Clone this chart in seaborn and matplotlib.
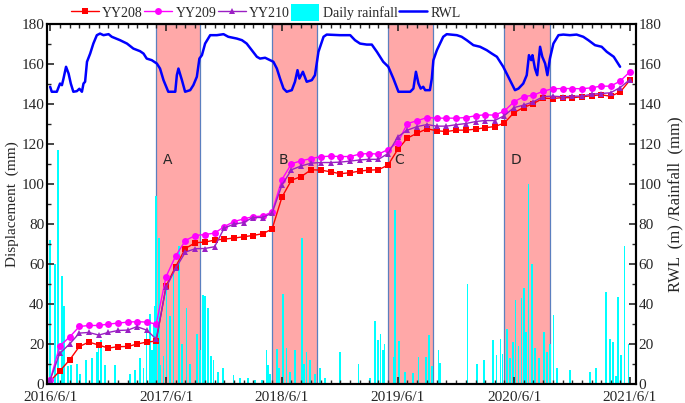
import matplotlib
matplotlib.use('Agg')
import matplotlib.pyplot as plt
import matplotlib.dates as mdates
from matplotlib.lines import Line2D
from matplotlib.patches import Patch
from matplotlib.ticker import MultipleLocator, FuncFormatter
import seaborn as sns
import pandas as pd
import numpy as np

# monthly displacement readings, first reading 2016/6/1
start = '2016-06-01'
yy208 = [1.5, 6.5, 12, 18.8, 21, 19.5, 18, 18.7, 18.8, 20, 21, 21.5,
         49, 58.7, 67.8, 70.7, 71, 72, 72.5, 73, 73.7, 74.3, 75.2, 77.5,
         93.5, 102, 103.8, 107.2, 107, 106.2, 105.2, 105.7, 106.5, 107, 107.2, 109.5,
         117.4, 123, 125.5, 127.7, 126.7, 126.3, 127, 127, 127.5, 128.2, 128.8, 130.5,
         135.8, 138.3, 140.3, 143, 142.8, 143.3, 143.2, 143.7, 144.2, 144.7, 144, 146, 152]
yy209 = [2, 19, 23.5, 28.8, 29.3, 29.3, 30, 30.5, 31, 31.2, 31, 30,
         53.7, 64, 71.8, 74.3, 74.8, 75.5, 78.7, 81.3, 82.6, 83.7, 84, 86.1,
         102.3, 110.2, 111.7, 112.8, 113.7, 114, 113.8, 113.8, 115, 115.3, 115, 117.3,
         120.8, 130.3, 131.7, 133.3, 133, 133, 133, 133.3, 134.2, 134.7, 134.5, 136.5,
         141.2, 143.7, 144.5, 146.5, 147.7, 147.8, 147.8, 147.7, 148.2, 149, 149, 151.5, 156.2]
yy210 = [2, 15.3, 20, 25.5, 25.8, 24.5, 25.8, 26.8, 27, 28.7, 27, 22.5,
         48.3, 57.8, 66, 67.7, 67.8, 68.7, 78, 80, 80.8, 83.3, 83.3, 85.5,
         99.5, 107.2, 109.1, 110.5, 110.8, 110.8, 111, 111.5, 112.1, 112.4, 112.4, 115.3,
         123.7, 127, 128.8, 129.8, 129, 129, 129.7, 130.3, 131.3, 131.8, 131.8, 134.2,
         138.3, 139.5, 141.2, 143.8, 144, 143.7, 144, 144, 145, 145.3, 145.7, 148.3, 152.3]

# reservoir water level, days after 2016/6/1
rwl_day = [0, 5, 21, 31, 37, 42, 50, 58, 65, 73, 84, 92, 100, 105, 110, 116, 126, 136, 147, 157,
           168, 184, 194, 220, 242, 262, 283, 294, 304, 320, 336, 346, 357, 372, 394, 399, 404,
           415, 425, 441, 451, 462, 470, 478, 488, 504, 525, 546, 561, 588, 604, 619, 635, 651,
           661, 677, 693, 703, 714, 724, 735, 745, 761, 771, 779, 785, 796, 808, 824, 834, 845,
           861, 871, 913, 945, 960, 976, 997, 1013, 1029, 1049, 1065, 1081, 1097, 1134, 1144,
           1152, 1160, 1167, 1175, 1181, 1196, 1202, 1207, 1218, 1238, 1249, 1281, 1296, 1312,
           1333, 1354, 1375, 1391, 1407, 1427, 1448, 1464, 1475, 1490, 1501, 1508, 1515, 1519,
           1527, 1534, 1543, 1550, 1559, 1566, 1574, 1585, 1601, 1616, 1637, 1658, 1679, 1695,
           1716, 1737, 1753, 1775, 1795]
rwl = [148.7, 146.2, 146.2, 150.3, 149.5, 152.8, 158.7, 155.3, 150.3, 146.2, 146.5, 147.7, 146.2,
       150.3, 151.2, 161.2, 165.3, 170.3, 174.5, 175.3, 174.5, 175, 173.7, 172, 170.3, 167.8,
       166.5, 165.3, 162.8, 162, 160.3, 157.8, 152, 146.2, 146.2, 154.5, 157.8, 152, 146.2, 147,
       149.5, 153.7, 162.8, 164.5, 170.3, 174.5, 174.5, 175, 173.7, 172.8, 172, 170.3, 167,
       163.7, 162.8, 163.2, 162, 161.2, 157.8, 152.8, 147.8, 146.2, 147, 151.2, 157, 152.8,
       156.2, 151.2, 152, 154.5, 166.2, 173.7, 174.8, 174.5, 174.5, 172, 170.3, 169.8, 169.8,
       166.2, 161.2, 158.7, 152.8, 146.2, 146.2, 147.8, 156.2, 150.3, 147.8, 148.7, 147, 147,
       152.8, 162, 167, 173.7, 175, 174.5, 173.7, 172, 169.5, 168.7, 167, 165.3, 163.7, 158.7,
       152, 147, 147.8, 150.3, 154.5, 164.5, 162, 164.5, 157.8, 154.5, 168.7, 163.7, 160.3,
       154.5, 162.8, 170.3, 174.5, 174.8, 174.5, 174.8, 173.7, 172, 169.5, 168.7, 166.2, 163.7,
       158.7]

# daily rainfall events, days after 2016/6/1
rain_day = [0, 16, 25, 38, 44, 57, 66, 84, 94, 113, 131, 147, 152, 161, 173, 205, 252, 268, 283,
            294, 304, 315, 320, 325, 331, 334, 343, 346, 357, 367, 378, 388, 405, 416, 430, 441,
            462, 472, 481, 488, 498, 506, 514, 529, 544, 577, 598, 624, 645, 668, 682, 687, 693,
            714, 721, 733, 745, 756, 771, 793, 800, 808, 819, 834, 850, 866, 913, 971, 1008,
            1023, 1032, 1041, 1048, 1053, 1081, 1087, 1099, 1118, 1143, 1160, 1184, 1194, 1202,
            1223, 1228, 1315, 1344, 1367, 1394, 1406, 1419, 1425, 1438, 1448, 1457, 1466, 1475,
            1485, 1493, 1499, 1506, 1517, 1527, 1540, 1555, 1564, 1574, 1585, 1597, 1637, 1700,
            1719, 1751, 1763, 1772, 1782, 1789, 1798, 1809, 1821]
rain = [72, 60, 117, 54, 39, 9, 9.5, 10, 5, 12, 13, 16, 19, 22, 9.5, 9.5, 5, 7, 13,
        8, 27, 35, 17, 30, 39, 94, 73, 9.5, 14, 48, 34, 55, 69, 20, 38, 10,
        25, 17, 44.5, 44, 38, 14, 12, 6, 8, 4.5, 3, 3, 2, 2, 17, 9.5, 5,
        17.5, 8, 45, 18, 6, 17, 73, 10, 16, 12, 5, 8, 3, 16, 10, 3,
        31.5, 22, 25, 17, 20, 13.5, 87, 21.5, 6, 5.5, 13.5, 13.5, 24.5, 9,
        17, 10.5, 50, 10, 12, 22, 14.5, 22.5, 15, 27.5, 13, 21, 42, 19,
        43, 48, 26, 100, 60, 18, 13, 26, 16, 20, 34.5, 8, 7, 6,
        8, 46, 22.5, 21, 4, 43.5, 14.5, 69, 20]

# flood season periods
periods = ['A', 'B', 'C', 'D']
period_start = ['2017-05-01', '2018-05-01', '2019-05-01', '2020-05-01']
period_end = ['2017-09-16', '2018-09-18', '2019-09-21', '2020-09-21']


def main():
    sns.set_style('ticks')
    plt.rcParams['font.family'] = ['Liberation Serif', 'DejaVu Serif']
    plt.rcParams['font.size'] = 11

    t0 = pd.Timestamp(start)
    disp = pd.DataFrame({'date': pd.date_range(start, periods=len(yy208), freq='MS'),
                         'YY208': yy208, 'YY209': yy209, 'YY210': yy210})
    level = pd.DataFrame({'date': t0 + pd.to_timedelta(rwl_day, unit='D'), 'RWL': rwl})
    rainfall = pd.DataFrame({'date': t0 + pd.to_timedelta(rain_day, unit='D'), 'rain': rain})

    fig = plt.figure(figsize=(6.85, 4.03), dpi=100)
    ax = fig.add_axes([0.0686, 0.047, 0.8598, 0.893])
    ax2 = ax.twinx()

    # shaded periods and right-axis data go on the twin, displacement stays on top
    for name, s, e in zip(periods, period_start, period_end):
        ax2.axvspan(pd.Timestamp(s), pd.Timestamp(e), facecolor='#ffa8a8',
                    edgecolor='#5b7fbf', linewidth=0.9, zorder=0)
        ax.text(pd.Timestamp(s) + pd.Timedelta(days=20), 112, name, fontsize=10,
                family='DejaVu Sans', va='center', ha='left')

    ax2.bar(rainfall['date'], rainfall['rain'], width=5, color='#00ffff', linewidth=0, zorder=2)
    sns.lineplot(data=level, x='date', y='RWL', ax=ax2, color='#0000ff', linewidth=1.8, zorder=3)

    styles = {'YY208': ('#ff0000', 's', 4.2), 'YY209': ('#ff00ff', 'o', 5), 'YY210': ('#9b1fc4', '^', 5)}
    for col, (c, m, ms) in styles.items():
        sns.lineplot(data=disp, x='date', y=col, ax=ax, color=c, marker=m, markersize=ms,
                     markeredgewidth=0, linewidth=1)

    ax.set_zorder(ax2.get_zorder() + 1)
    ax.patch.set_visible(False)

    xmin = pd.Timestamp('2016-05-22')
    xmax = pd.Timestamp('2021-06-20')
    for a in (ax, ax2):
        a.set_ylim(0, 180)
        a.set_xlim(xmin, xmax)
        a.yaxis.set_major_locator(MultipleLocator(20))
        a.yaxis.set_minor_locator(MultipleLocator(10))
        for sp in a.spines.values():
            sp.set_linewidth(1.5)
            sp.set_color('black')

    ax.xaxis.set_major_locator(mdates.YearLocator(base=1, month=6, day=1))
    ax.xaxis.set_minor_locator(mdates.MonthLocator())
    ax.xaxis.set_major_formatter(FuncFormatter(
        lambda v, p: '{0.year}/{0.month}/{0.day}'.format(mdates.num2date(v))))

    ax.tick_params(axis='both', which='major', direction='in', length=5, width=1.2,
                   top=True, labelsize=11, pad=2)
    ax.tick_params(axis='x', which='major', pad=5)
    ax.tick_params(axis='both', which='minor', direction='in', length=3, width=1,
                   top=True)
    ax.tick_params(axis='y', left=True, right=False)
    ax2.tick_params(axis='y', which='major', direction='in', length=5, width=1.2,
                    labelsize=11, pad=2)
    ax2.tick_params(axis='y', which='minor', direction='in', length=3, width=1)

    ax.set_xlabel('')
    ax.set_ylabel('Displacement  (mm)', fontsize=11, labelpad=2)
    ax2.set_ylabel('RWL  (m) /Rainfall  (mm)', fontsize=12, labelpad=4)

    handles = [Line2D([], [], color='#ff0000', marker='s', markersize=4.2, markeredgewidth=0, lw=1),
               Line2D([], [], color='#ff00ff', marker='o', markersize=5, markeredgewidth=0, lw=1),
               Line2D([], [], color='#9b1fc4', marker='^', markersize=5, markeredgewidth=0, lw=1),
               Patch(facecolor='#00ffff', edgecolor='none'),
               Line2D([], [], color='#0000ff', lw=1.8)]
    labels = ['YY208', 'YY209', 'YY210', 'Daily rainfall', 'RWL']
    fig.legend(handles, labels, loc='center', bbox_to_anchor=(0.388, 0.968), ncol=5,
               frameon=False, fontsize=10, columnspacing=0.1, handletextpad=0.25,
               handlelength=2.0, handleheight=1.5, borderpad=0.1)

    fig.savefig('out.png', dpi=100)


if __name__ == '__main__':
    main()
